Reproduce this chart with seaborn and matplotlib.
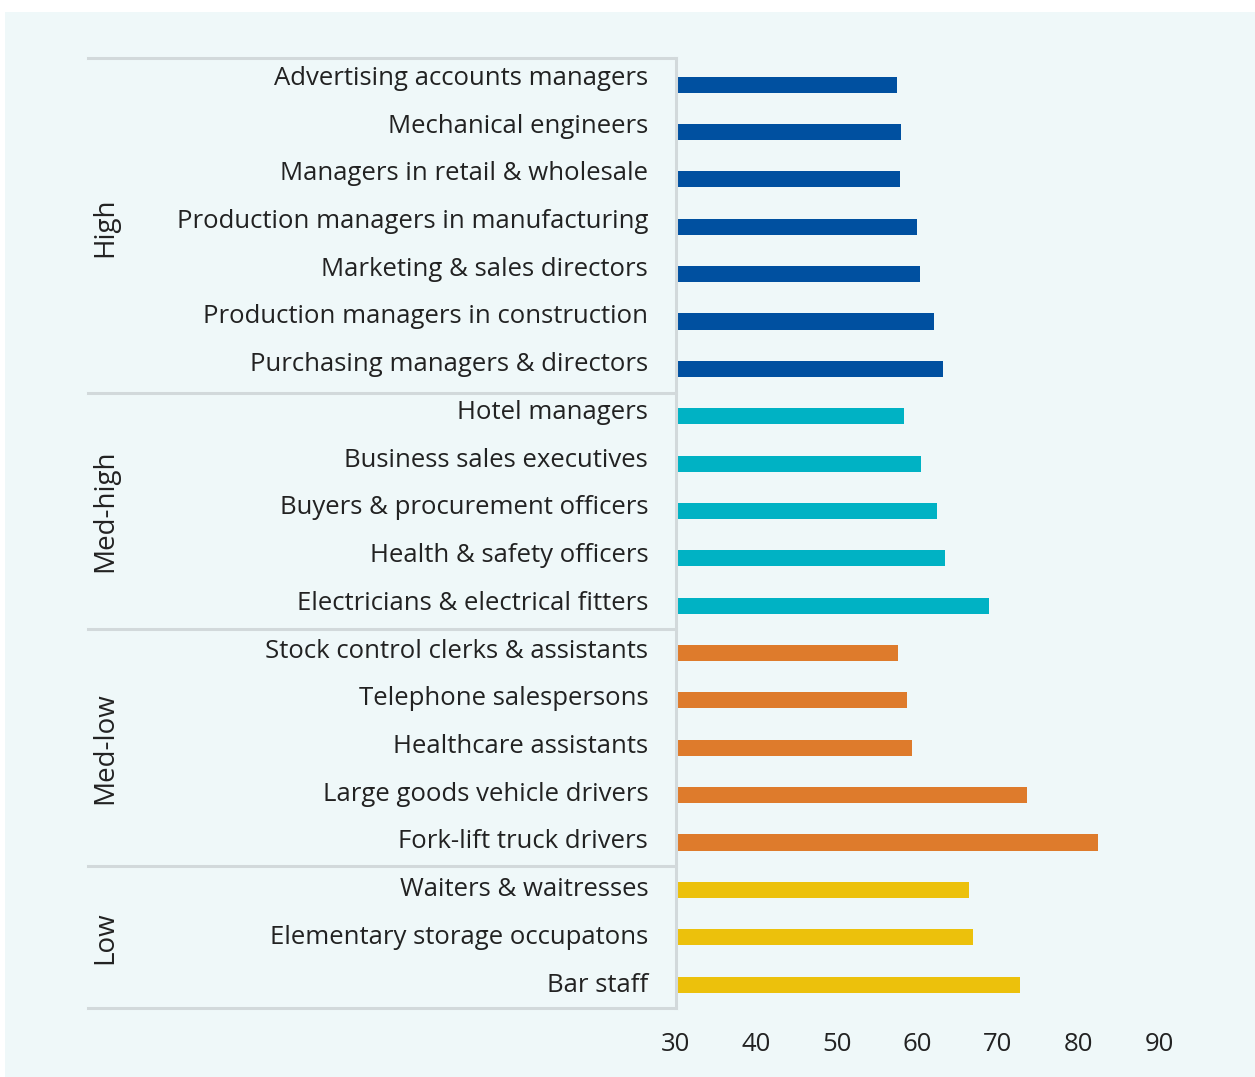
import matplotlib
matplotlib.use("Agg")
import matplotlib.pyplot as plt
import matplotlib.transforms as mtransforms
from matplotlib.patches import Rectangle
import seaborn as sns
import pandas as pd
import numpy as np

occupations = [
    "Advertising accounts managers", "Mechanical engineers", "Managers in retail & wholesale",
    "Production managers in manufacturing", "Marketing & sales directors",
    "Production managers in construction", "Purchasing managers & directors",
    "Hotel managers", "Business sales executives", "Buyers & procurement officers",
    "Health & safety officers", "Electricians & electrical fitters",
    "Stock control clerks & assistants", "Telephone salespersons", "Healthcare assistants",
    "Large goods vehicle drivers", "Fork-lift truck drivers",
    "Waiters & waitresses", "Elementary storage occupatons", "Bar staff",
]
values = [57.5, 57.9, 57.8, 59.9, 60.3, 62.0, 63.2,
          58.3, 60.4, 62.4, 63.4, 68.9,
          57.6, 58.7, 59.3, 73.6, 82.4,
          66.4, 66.9, 72.7]
groups = ["High"] * 7 + ["Med-high"] * 5 + ["Med-low"] * 5 + ["Low"] * 3
group_names = ["High", "Med-high", "Med-low", "Low"]
group_colors = ["#0050a0", "#00b2c4", "#de7b2c", "#ecc10c"]
x_ticks = [30, 40, 50, 60, 70, 80, 90]

df = pd.DataFrame({"occupation": occupations, "value": values, "group": groups})

W, H = 1255, 1077
fig = plt.figure(figsize=(W / 100, H / 100), dpi=100, facecolor="white")
fig.patches.append(Rectangle((5 / W, 0), 1 - 5 / W, (H - 12) / H, transform=fig.transFigure,
                             facecolor="#eff8f9", edgecolor="none", zorder=-10))

top_px, bot_px = 58.3, 1008.3
ax_left, ax_right = 676 / W, 1159 / W
ax = fig.add_axes([ax_left, 1 - bot_px / H, ax_right - ax_left, (bot_px - top_px) / H])
ax.set_facecolor("none")

sns.barplot(data=df, y="occupation", x="value", hue="group", hue_order=group_names,
            palette=group_colors, dodge=False, width=0.34, orient="h", ax=ax,
            legend=False, saturation=1)

n = len(occupations)
ax.set_xlim(30, 90)
ax.set_ylim(n - 0.5, -0.557)
ax.set_xticks(x_ticks)
ax.set_xticklabels([str(t) for t in x_ticks])
# labels sit slightly above their bars, with a marginally wider pitch
label_pos = np.linspace(-0.198, n - 1 - 0.052, n)
ax.set_yticks(label_pos)
ax.set_yticklabels(occupations)
ax.set_xlabel("")
ax.set_ylabel("")

txt_color = "#222222"
font = "Open Sans"
fs = 18.5
ax.tick_params(axis="y", length=0, pad=20, labelsize=fs, labelcolor=txt_color)
ax.tick_params(axis="x", length=0, pad=17, labelsize=fs, labelcolor=txt_color)
for lab in ax.get_yticklabels() + ax.get_xticklabels():
    lab.set_fontfamily(font)

for s in ["top", "right", "bottom"]:
    ax.spines[s].set_visible(False)
line_color = "#d2d9db"
ax.spines["left"].set_color(line_color)
ax.spines["left"].set_linewidth(2.2)

# group separators
trans = mtransforms.blended_transform_factory(ax.transAxes, ax.transData)
x0 = (88 - 676) / (1159 - 676)
boundaries = [-0.5]
count = 0
for g in group_names:
    count += groups.count(g)
    boundaries.append(count - 0.5)
line_pos = [-0.557] + boundaries[1:]
for b in line_pos:
    ax.plot([x0, 0], [b, b], transform=trans, color=line_color, lw=2.2, clip_on=False,
            solid_capstyle="projecting")

# group labels
xg = (105 - 676) / (1159 - 676)
for i, g in enumerate(group_names):
    mid = (boundaries[i] + boundaries[i + 1]) / 2
    ax.text(xg, mid, g, transform=trans, rotation=90, ha="center", va="center",
            fontsize=20, color=txt_color, fontfamily=font)

fig.savefig("out.png", dpi=100, facecolor="white")
